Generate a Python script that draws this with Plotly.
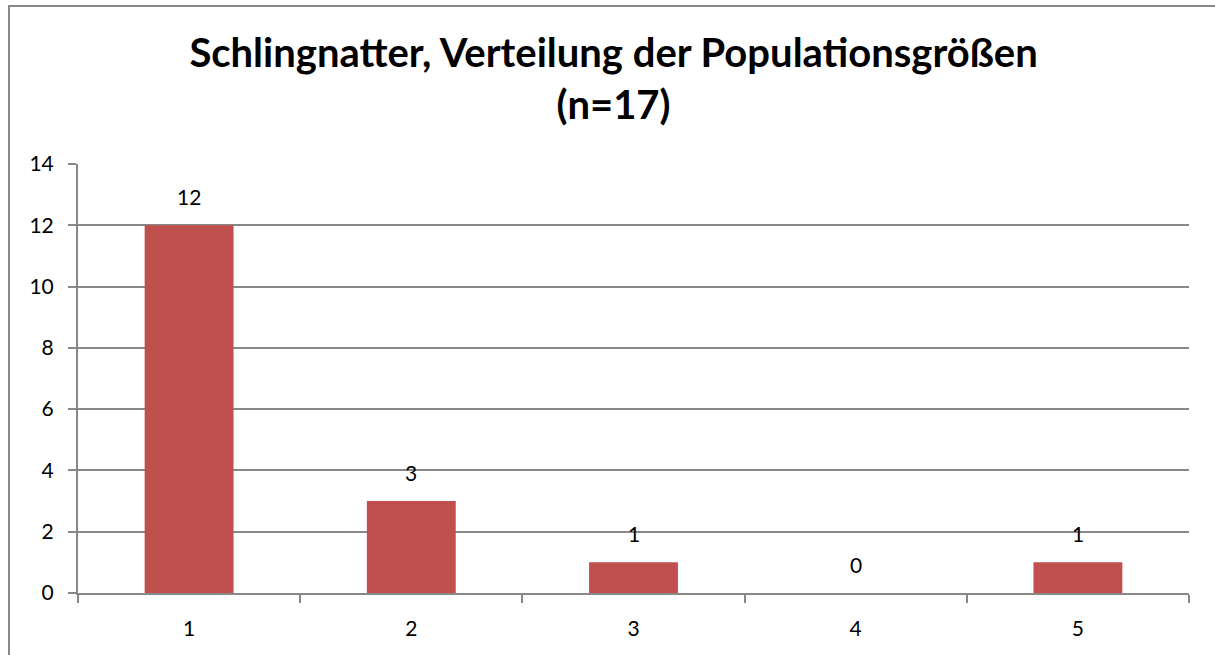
import plotly.graph_objects as go

categories = ["1", "2", "3", "4", "5"]
values = [12, 3, 1, 0, 1]
title_text = "Schlingnatter, Verteilung der Populationsgrößen<br>(n=17)"
y_ticks = [0, 2, 4, 6, 8, 10, 12, 14]

W, H = 1215, 655
ml, mr, mt, mb = 78, 26, 164, 62
pw, ph = W - ml - mr, H - mt - mb
FONT = "Lato, Open Sans, sans-serif"

fig = go.Figure()
fig.add_trace(go.Bar(x=categories, y=values, marker=dict(color="#C0504D", line=dict(width=0)),
                     width=0.4))

for i, (c, v) in enumerate(zip(categories, values)):
    fig.add_annotation(x=i, y=v, text=str(v), showarrow=False, yshift=29,
                       font=dict(family=FONT, size=21, color="#000"))

fig.add_shape(type="rect", xref="paper", yref="paper",
              x0=(9 - ml) / pw, x1=(W + 20 - ml) / pw,
              y0=(mt + ph - (H + 20)) / ph, y1=(mt + ph - 6) / ph,
              line=dict(color="#888888", width=2), fillcolor="rgba(0,0,0,0)", layer="below")

fig.update_layout(
    width=W, height=H,
    margin=dict(l=ml, r=mr, t=mt, b=mb),
    paper_bgcolor="white", plot_bgcolor="white",
    showlegend=False,
    title=dict(text=title_text, x=0.505, xanchor="center", y=1 - 67 / H, yanchor="middle",
               font=dict(family=FONT, size=40, color="#000", weight="bold")),
    font=dict(family=FONT, size=21, color="#000"),
)
fig.update_xaxes(type="category", range=[-0.5, 4.5], autorange=False, showgrid=False,
                 showline=True, linecolor="#888888", linewidth=2,
                 ticks="outside", tickson="boundaries", ticklen=8, tickcolor="#888888", tickwidth=2,
                 ticklabelstandoff=16, tickfont=dict(size=21))
fig.update_yaxes(range=[0, 14], autorange=False, tickvals=y_ticks, showgrid=True, gridcolor="#888888",
                 gridwidth=1.5, showline=True, linecolor="#888888", linewidth=2, zeroline=False,
                 ticks="outside", ticklen=8, tickcolor="#888888", tickwidth=2,
                 ticklabelstandoff=10, tickfont=dict(size=21))

fig.write_html("out.html", post_script="document.body.style.margin='0';",
               config={"displayModeBar": False})
